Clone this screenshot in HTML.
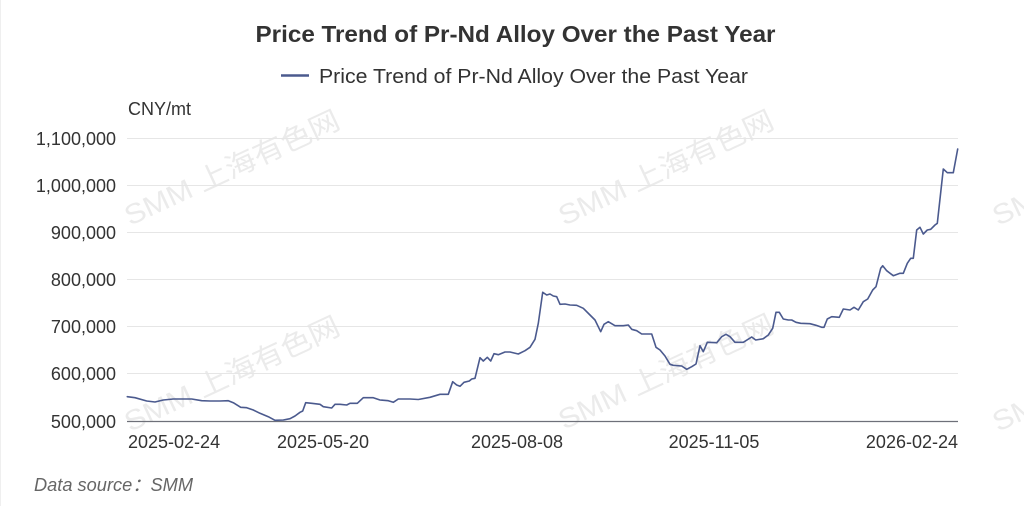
<!DOCTYPE html>
<html>
<head>
<meta charset="utf-8">
<style>
  html, body { margin: 0; padding: 0; background: #ffffff; }
  body { width: 1024px; height: 506px; overflow: hidden; }
  svg { display: block; }
  text { font-family: "Liberation Sans", "Noto Sans CJK SC", sans-serif; }
</style>
</head>
<body>
<svg width="1024" height="506" viewBox="0 0 1024 506" xmlns="http://www.w3.org/2000/svg">
  <rect x="0" y="0" width="1024" height="506" fill="#ffffff"/>
  <line x1="0.5" y1="0" x2="0.5" y2="506" stroke="#efefef" stroke-width="1"/>

  <!-- watermarks -->
  <g fill="#ebebeb" font-size="28" text-anchor="middle" dominant-baseline="central">
    <text x="232" y="168" transform="rotate(-25 232 168)" textLength="234" lengthAdjust="spacingAndGlyphs">SMM 上海有色网</text>
    <text x="666" y="168" transform="rotate(-25 666 168)" textLength="234" lengthAdjust="spacingAndGlyphs">SMM 上海有色网</text>
    <text x="1100" y="168" transform="rotate(-25 1100 168)" textLength="234" lengthAdjust="spacingAndGlyphs">SMM 上海有色网</text>
    <text x="232" y="374" transform="rotate(-25 232 374)" textLength="234" lengthAdjust="spacingAndGlyphs">SMM 上海有色网</text>
    <text x="666" y="372" transform="rotate(-25 666 372)" textLength="234" lengthAdjust="spacingAndGlyphs">SMM 上海有色网</text>
    <text x="1100" y="374" transform="rotate(-25 1100 374)" textLength="234" lengthAdjust="spacingAndGlyphs">SMM 上海有色网</text>
  </g>

  <!-- title -->
  <text x="515.5" y="42" text-anchor="middle" font-size="23" font-weight="bold" fill="#333333" textLength="520" lengthAdjust="spacingAndGlyphs">Price Trend of Pr-Nd Alloy Over the Past Year</text>

  <!-- legend -->
  <line x1="281" y1="75.5" x2="309" y2="75.5" stroke="#4b5a8e" stroke-width="2.5"/>
  <text x="319" y="83" font-size="20" fill="#333333" textLength="429" lengthAdjust="spacingAndGlyphs">Price Trend of Pr-Nd Alloy Over the Past Year</text>

  <!-- unit -->
  <text x="128" y="115" font-size="18" fill="#333333">CNY/mt</text>

  <!-- gridlines -->
  <g stroke="#e6e6e6" stroke-width="1">
    <line x1="127" y1="138.5" x2="958" y2="138.5"/>
    <line x1="127" y1="185.5" x2="958" y2="185.5"/>
    <line x1="127" y1="232.5" x2="958" y2="232.5"/>
    <line x1="127" y1="279.5" x2="958" y2="279.5"/>
    <line x1="127" y1="326.5" x2="958" y2="326.5"/>
    <line x1="127" y1="373.5" x2="958" y2="373.5"/>
  </g>
  <line x1="127" y1="421.5" x2="958" y2="421.5" stroke="#6e7079" stroke-width="1.2"/>

  <!-- y labels -->
  <g font-size="18" fill="#333333" text-anchor="end">
    <text x="116" y="145">1,100,000</text>
    <text x="116" y="192">1,000,000</text>
    <text x="116" y="239">900,000</text>
    <text x="116" y="286">800,000</text>
    <text x="116" y="333">700,000</text>
    <text x="116" y="380">600,000</text>
    <text x="116" y="428">500,000</text>
  </g>

  <!-- x labels -->
  <g font-size="18" fill="#333333">
    <text x="128" y="448">2025-02-24</text>
    <text x="323" y="448" text-anchor="middle">2025-05-20</text>
    <text x="517" y="448" text-anchor="middle">2025-08-08</text>
    <text x="714" y="448" text-anchor="middle">2025-11-05</text>
    <text x="958" y="448" text-anchor="end">2026-02-24</text>
  </g>

  <!-- series -->
  <polyline fill="none" stroke="#4b5a8e" stroke-width="1.6" stroke-linejoin="round" stroke-linecap="round"
    points="127.3,396.7 135,397.7 146.7,401 155,402 163.3,400 173.3,399 191.7,399 201.7,400.7 210,401 220,401 228.3,400.7 233.3,402.7 240.7,407.3 246.7,407.7 253.3,410 260,413.3 268.3,416.7 275,420.3 283.3,420 290,418.7 295,416 300,412.3 302.7,411 305.7,402.7 311.7,403.3 320,404.3 323.3,406.7 331.7,408 335,404.3 340,404.3 346.7,405 350,403.3 357.3,403.3 363.3,397.7 373.3,397.7 380,400 388.3,400.7 393.3,402.3 398.3,399 410,399 418.3,399.5 430,397.3 440,394.3 448.3,394.3 452.7,381.7 456.7,385 460,386.3 464,382.3 469.3,381 471.7,379 475,378.3 480,357.7 483.3,361 487.3,357.3 490.7,361 494,353.7 498.3,354.7 505,352 510,352 518.3,354 525,350.7 530,347.3 535,339.3 538.3,323.3 542.7,292.3 546.7,295 550,294 553.3,296 556.7,296.7 560,304.3 565,304 570,305 576.7,305.3 583.3,308.3 590,315 595,320 600.7,331.7 604,324.3 608.3,321.7 615,325.7 623.3,325.7 628.3,325 631.7,329.3 636.7,330.7 641.7,334 651.7,334 656,347.3 660,350 665,356 670,364.3 673.3,365.3 681.7,366 686.7,369.3 691.7,366.7 696,364 700,345.7 703.3,351.7 707.3,342.3 716.7,342.7 721.7,336.7 726,334.3 730,336.7 735,342.3 743.3,342.3 751.7,337 755.7,340 763.3,338.7 768.3,335 772.7,328.3 776,312.3 779.3,312.3 783.3,319 788.3,320 791.7,320 796,322.3 800.7,323.3 810,323.7 816,325.3 821.7,327.3 824,327.3 827.3,319 831.7,316.7 839.3,317.3 843.3,309 850,310 854,307.3 858.3,310 863.3,301.7 867.7,299 872.7,290 876,286.7 880.7,268.3 882.7,265.7 886.7,270.7 893.3,275.7 900,273.3 903.3,273.3 907.3,263.3 910.7,258.3 913.3,258.3 916.7,230 920,227.3 923.3,234 927.3,230 930.7,229.3 935,225 937.3,223.3 943.3,169 947.3,172.7 953.3,172.7 957.7,149"/>

  <!-- data source -->
  <text x="34" y="491" font-size="18" font-style="italic" fill="#666666" textLength="159" lengthAdjust="spacingAndGlyphs">Data source：SMM</text>
</svg>
</body>
</html>
